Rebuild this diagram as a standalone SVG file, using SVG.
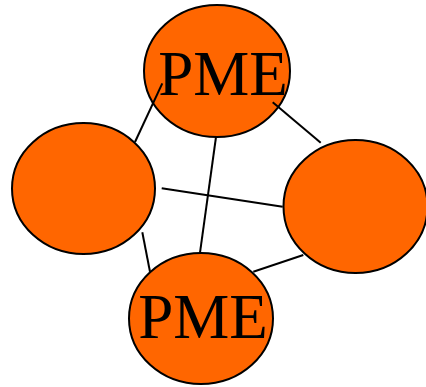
<svg xmlns="http://www.w3.org/2000/svg" width="426" height="387" viewBox="0 0 426 387">
<style>
.node{fill:#FF6600;stroke:#000;stroke-width:2}
.lbl{font-family:"Liberation Serif","Times New Roman",serif;font-size:63px;fill:#000;text-anchor:middle}
.edge{stroke:#000;stroke-width:2;fill:none}
</style>
<rect width="426" height="387" fill="#fff"/>
<g id="node-top"><ellipse class="node" cx="217" cy="71" rx="73" ry="66"/><text class="lbl" x="223" y="95">PME</text></g>
<g id="node-left"><ellipse class="node" cx="83.5" cy="188.5" rx="71.5" ry="65.5"/></g>
<g id="node-right"><ellipse class="node" cx="355.5" cy="206.5" rx="72" ry="66.5"/></g>
<g id="node-bottom"><ellipse class="node" cx="201" cy="318.5" rx="72" ry="65.5"/><text class="lbl" x="203" y="338">PME</text></g>
<g id="connectors">
<line class="edge" x1="135" y1="142" x2="162.3" y2="83.3"/>
<line class="edge" x1="272.7" y1="102.3" x2="320.7" y2="142.7"/>
<line class="edge" x1="216" y1="137" x2="200" y2="252.7"/>
<line class="edge" x1="161.7" y1="188.3" x2="282.7" y2="206.7"/>
<line class="edge" x1="142.3" y1="232.3" x2="150" y2="271.7"/>
<line class="edge" x1="303.3" y1="255" x2="253.3" y2="271.7"/>
</g>
</svg>
